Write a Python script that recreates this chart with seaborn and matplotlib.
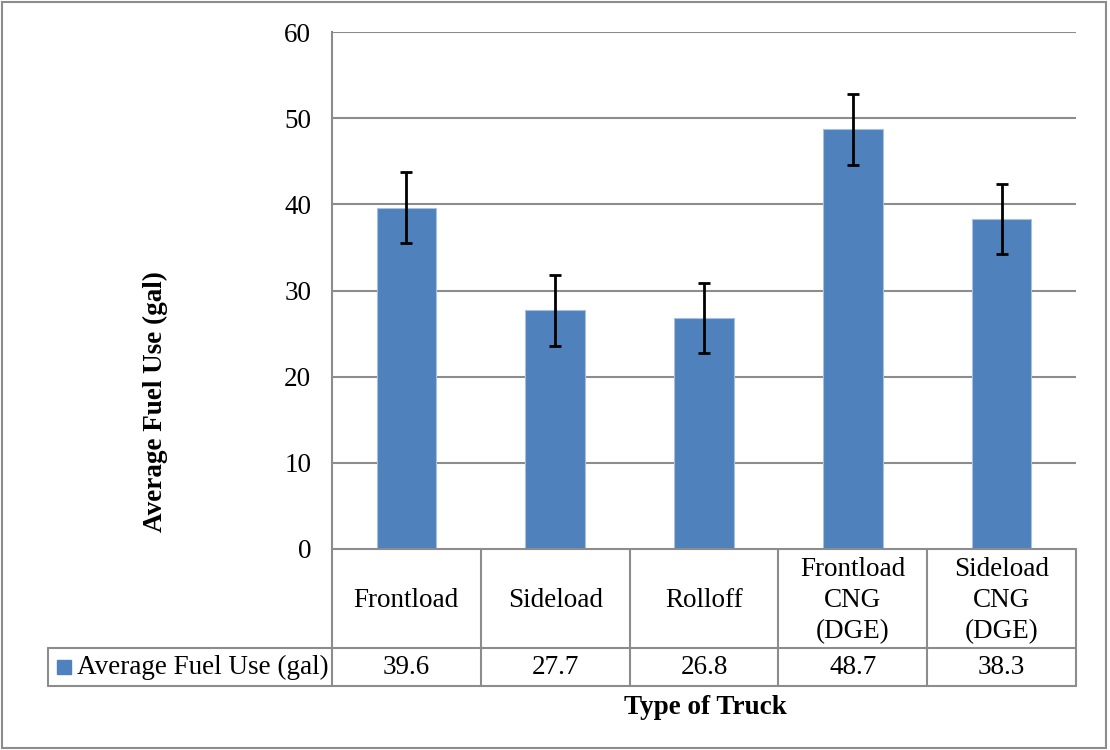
import matplotlib
matplotlib.use("Agg")
import matplotlib.pyplot as plt
import matplotlib.transforms as mtransforms
from matplotlib.patches import Rectangle
import seaborn as sns

# Datos
categorias = ["Frontload", "Sideload", "Rolloff", "Frontload\nCNG\n(DGE)", "Sideload\nCNG\n(DGE)"]
valores = [39.6, 27.7, 26.8, 48.7, 38.3]
errores = [4.1, 4.1, 4.1, 4.1, 4.1]
etiquetas_valores = ["39.6", "27.7", "26.8", "48.7", "38.3"]
serie = "Average Fuel Use (gal)"
y_ticks = [0, 10, 20, 30, 40, 50, 60]

azul = "#4F81BD"
gris = "#8C8C8C"
fs = 19.5

sns.set_style("white")
plt.rcParams["font.family"] = ["Liberation Serif", "DejaVu Serif"]
plt.rcParams["text.color"] = "black"
plt.rcParams["ytick.color"] = "black"

fig = plt.figure(figsize=(11.1, 7.5), dpi=100)
W, H = 1110, 750
ax = fig.add_axes([332 / W, 1 - 549 / H, (1076 - 332) / W, (549 - 32) / H])

sns.barplot(x=list(range(len(valores))), y=valores, color=azul, width=0.4,
            saturation=1, edgecolor="#A7C0DE", linewidth=0.8, ax=ax, native_scale=True)
ax.errorbar(list(range(len(valores))), valores, yerr=errores, fmt="none",
            ecolor="black", elinewidth=2, capsize=4.3, capthick=2, zorder=5)

ax.set_xlim(-0.5, len(valores) - 0.5)
ax.set_ylim(0, 60)
ax.set_yticks(y_ticks)
ax.set_yticklabels([str(t) for t in y_ticks], fontsize=fs)
ax.tick_params(axis="y", length=0, pad=15, labelcolor="black")
ax.set_xticks([])
ax.set_xlabel("")
ax.set_ylabel("")
for t in y_ticks[1:]:
    ax.axhline(t, color=gris, lw=1.5, zorder=0)
for s in ["top", "right", "bottom"]:
    ax.spines[s].set_visible(False)
ax.spines["left"].set_color(gris)
ax.spines["left"].set_linewidth(1.5)

# Tabla de datos bajo el eje
tr = mtransforms.blended_transform_factory(ax.transData, ax.transAxes)
y0, y1, y2 = 0.0, -0.1915, -0.265
x_leg = -0.3817
kw = dict(color=gris, lw=1.5, clip_on=False)
n = len(valores)
ax.plot([-0.5, n - 0.5], [y0, y0], transform=tr, **kw)
for i in range(n + 1):
    ax.plot([i - 0.5, i - 0.5], [y0, y2], transform=tr, **kw)
ax.plot([x_leg, 0], [y1, y1], transform=ax.transAxes, **kw)
ax.plot([x_leg, 0], [y2, y2], transform=ax.transAxes, **kw)
ax.plot([-0.5, n - 0.5], [y1, y1], transform=tr, **kw)
ax.plot([-0.5, n - 0.5], [y2, y2], transform=tr, **kw)
ax.plot([x_leg, x_leg], [y1, y2], transform=ax.transAxes, **kw)

for i, (cat, lab) in enumerate(zip(categorias, etiquetas_valores)):
    ax.text(i, (y0 + y1) / 2 - 0.004, cat, transform=tr, ha="center", va="center",
            fontsize=fs, linespacing=1.3)
    ax.text(i, (y1 + y2) / 2, lab, transform=tr, ha="center", va="center", fontsize=fs)

# Leyenda dentro de la tabla
ax.add_patch(Rectangle((x_leg + 0.012, (y1 + y2) / 2 - 0.013), 0.019, 0.027,
                       transform=ax.transAxes, color=azul, clip_on=False))
ax.text(x_leg + 0.039, (y1 + y2) / 2, serie, transform=ax.transAxes,
        ha="left", va="center", fontsize=fs)

# Títulos de ejes
fig.text(155 / W, 1 - 402 / H, "Average Fuel Use (gal)", rotation=90, ha="center",
         va="center", fontsize=fs, fontweight="bold")
fig.text(705 / W, 1 - 708 / H, "Type of Truck", ha="center", va="center",
         fontsize=fs, fontweight="bold")

# Borde exterior
fig.patches.append(Rectangle((2 / W, 2 / H), 1104 / W, 746 / H, transform=fig.transFigure,
                             fill=False, edgecolor=gris, lw=1.5))

fig.savefig("out.png", dpi=100)
